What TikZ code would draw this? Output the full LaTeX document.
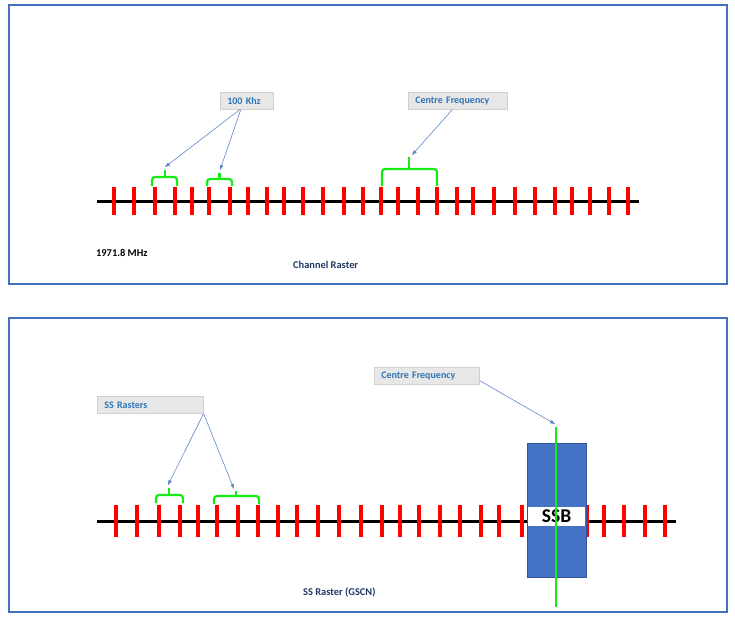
\documentclass[tikz,border=0pt]{standalone}
\usepackage{fontspec}
\setmainfont{Carlito}
\usetikzlibrary{arrows.meta}
\definecolor{frameblue}{RGB}{68,114,196}
\definecolor{labblue}{RGB}{46,117,182}
\definecolor{labfill}{RGB}{231,231,231}
\definecolor{labdraw}{RGB}{208,208,208}
\definecolor{navytext}{RGB}{32,56,100}
\definecolor{brgreen}{RGB}{20,235,20}
\definecolor{tickred}{RGB}{255,0,0}
\definecolor{ssbblue}{RGB}{68,114,196}
\definecolor{ssbedge}{RGB}{50,85,150}
\begin{document}
\begin{tikzpicture}[x=1pt,y=-1pt,
  frame/.style={draw=frameblue,line width=1.3pt,fill=white},
  labelbox/.style={draw=labdraw,fill=labfill,line width=0.6pt,inner xsep=7pt,inner ysep=0pt,
    minimum height=17pt,align=left,font=\fontsize{10}{11}\selectfont\bfseries,text=labblue,anchor=north west},
  pointer/.style={draw=frameblue!85,line width=0.6pt,-{Triangle[length=5pt,width=3.5pt]}},
  axisline/.style={line width=2.8pt,black},
  rtick/.style={draw=tickred,line width=3.6pt},
  brace/.style={draw=brgreen,line width=2.2pt,rounded corners=3pt},
  plain/.style={inner sep=0pt,anchor=west,font=\fontsize{10.4}{12}\selectfont\bfseries},
]
\useasboundingbox (0,0) rectangle (735,621);
% frames
\draw[frame] (9,5) rectangle (727,284);
\draw[frame] (9,318) rectangle (727,612);

% ---------- top panel ----------
\coordinate (a1s) at (97,201.5);
\coordinate (a1e) at (639,201.5);
\draw[axisline] (a1s) -- (a1e);
\foreach \x in {114,134,155,175,192,209,230,248,267,284,303,323,344,363,381,398,418,437,457,473,494,515,535,555,572,590,609,628}
  \draw[rtick] (\x,187) -- (\x,215);

\draw[brace] (152,186) -- (152,177) -- (177,177) -- (177,186);
\draw[brace,rounded corners=0pt] (165,177) -- (165,170);
\coordinate (n1) at (165,167);
\draw[brace] (207,186) -- (207,179) -- (232,179) -- (232,186);
\draw[brace,rounded corners=0pt] (219.5,179) -- (219.5,173);
\coordinate (n2) at (220,170);
\draw[brace] (382,186) -- (382,169) -- (437,169) -- (437,186);
\draw[brace,rounded corners=0pt] (409,169) -- (409,157);
\coordinate (n3) at (412,155);

\node[labelbox,text width=39pt] (k100) at (220,92) {100 Khz};
\node[labelbox,text width=85pt] (cf1) at (408,92) {Centre Frequency};
\draw[pointer] ([xshift=-7pt]k100.south) -- (n1);
\draw[pointer] ([xshift=-6pt]k100.south) -- (n2);
\draw[pointer] ([xshift=-5.5pt]cf1.south) -- (n3);

\node[plain,text=black] (freq) at (96,252.7) {1971.8 MHz};
\node[plain,text=navytext] (cr) at (293,265) {Channel Raster};

% ---------- bottom panel ----------
\coordinate (a2s) at (97,521.5);
\coordinate (a2e) at (676,521.5);
\draw[axisline] (a2s) -- (a2e);
\foreach \x in {116,137,159,180,198,217,238,258,278,297,318,339,361,382,400,419,440,460,481,499,522,587,604,624,645,665}
  \draw[rtick] (\x,505) -- (\x,537);

\draw[brace] (156,503) -- (156,495) -- (183,495) -- (183,503);
\draw[brace,rounded corners=0pt] (169,495) -- (169,488);
\coordinate (m1) at (168,485);
\draw[brace] (214,504) -- (214,496) -- (259,496) -- (259,504);
\draw[brace,rounded corners=0pt] (236,496) -- (236,491);
\coordinate (m2) at (234,489);

\node[labelbox,text width=92pt] (ssr) at (97,396) {SS Rasters};
\draw[pointer] (ssr.south east) -- (m1);
\draw[pointer] (ssr.south east) -- (m2);

\node[draw=ssbedge,fill=ssbblue,line width=0.6pt,minimum width=59pt,minimum height=134pt,inner sep=0pt] (ssb) at (556.5,510) {};
\node[fill=white,minimum width=57.5pt,minimum height=19pt,inner sep=0pt,font=\fontsize{19.5}{22}\selectfont\bfseries] (ssbl) at (556.5,516.5) {SSB};
\coordinate (gtop) at (556,427);
\coordinate (gbot) at (556,607);
\draw[draw=brgreen,line width=2pt] (gtop) -- (gbot);

\node[labelbox,text width=91pt] (cf2) at (374,367) {Centre Frequency};
\draw[pointer] ([yshift=4pt]cf2.south east) -- ([shift={(-1pt,3pt)}]gtop);

\node[plain,text=navytext] (gscn) at (303,592) {SS Raster (GSCN)};
\end{tikzpicture}
\end{document}
